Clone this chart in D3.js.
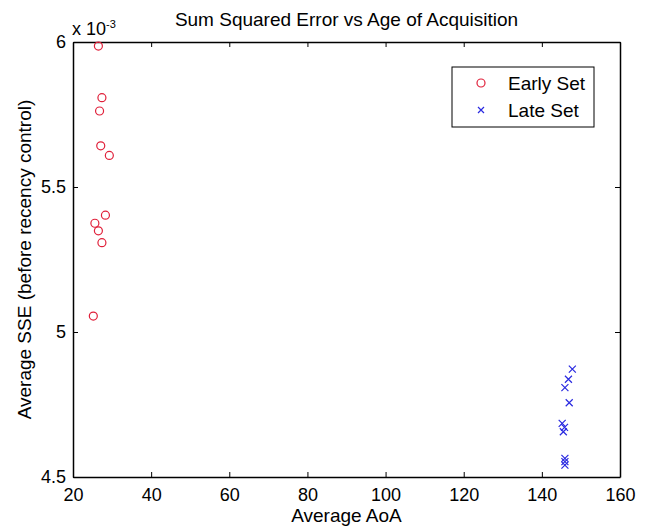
<!DOCTYPE html>
<html>
<head>
<meta charset="utf-8">
<script src="https://cdn.jsdelivr.net/npm/d3@7"></script>
<style>
  body { margin: 0; background: #fff; }
  text { font-family: "Liberation Sans", Arial, sans-serif; fill: #000; }
</style>
</head>
<body>
<div id="chart"></div>
<script>
// Early set: average AoA vs average SSE (x 10^-3)
const earlyAoA = [26.5, 27.4, 26.8, 27.1, 29.3, 28.3, 25.6, 26.5, 27.4, 25.2];
const earlySSE = [5.986, 5.808, 5.762, 5.642, 5.609, 5.403, 5.375, 5.349, 5.308, 5.055];

// Late set
const lateAoA = [147.8, 146.8, 145.9, 147.0, 145.2, 145.8, 145.5, 145.9, 145.9, 145.9];
const lateSSE = [4.872, 4.837, 4.808, 4.756, 4.685, 4.671, 4.656, 4.564, 4.553, 4.541];

const xTicks = [20, 40, 60, 80, 100, 120, 140, 160];
const yTicks = [4.5, 5, 5.5, 6];
const seriesNames = ["Early Set", "Late Set"];

const width = 649, height = 527;
const margin = { top: 42, right: 29, bottom: 50, left: 73 };

const svg = d3.select("#chart").append("svg")
    .attr("width", width)
    .attr("height", height);

const x = d3.scaleLinear().domain([20, 160]).range([margin.left, width - margin.right]);
const y = d3.scaleLinear().domain([4.5, 6]).range([height - margin.bottom, margin.top]);

const tickLen = 5;

// Axes (MATLAB style: ticks inside, box on)
const fontSize = "18px";
const gx = svg.append("g")
    .attr("transform", `translate(0,${y(4.5)})`)
    .call(d3.axisBottom(x).tickValues(xTicks).tickSizeInner(-tickLen).tickSizeOuter(0).tickPadding(10));
const gxTop = svg.append("g")
    .attr("transform", `translate(0,${y(6)})`)
    .call(d3.axisTop(x).tickValues(xTicks).tickSizeInner(-tickLen).tickSizeOuter(0).tickFormat(""));
const gy = svg.append("g")
    .attr("transform", `translate(${x(20)},0)`)
    .call(d3.axisLeft(y).tickValues(yTicks).tickSizeInner(-tickLen).tickSizeOuter(0).tickPadding(7).tickFormat(d3.format("")));
const gyRight = svg.append("g")
    .attr("transform", `translate(${x(160)},0)`)
    .call(d3.axisRight(y).tickValues(yTicks).tickSizeInner(-tickLen).tickSizeOuter(0).tickFormat(""));

[gx, gxTop, gy, gyRight].forEach(g => {
    g.select(".domain").attr("stroke", "#000").attr("stroke-width", 1.5);
    g.selectAll(".tick line").attr("stroke", "#000").attr("stroke-width", 1);
    g.selectAll(".tick text").attr("font-size", fontSize).attr("fill", "#000")
        .style("font-family", '"Liberation Sans", Arial, sans-serif');
});
gx.selectAll(".tick text").attr("dy", "0.75em");

// Exponent label
const expo = svg.append("text")
    .attr("x", x(20) - 1)
    .attr("y", 35)
    .attr("font-size", "18px");
expo.append("tspan").text("x 10");
expo.append("tspan").attr("dy", -7).attr("font-size", "11px").text("-3");

// Title and axis labels
svg.append("text")
    .attr("x", (x(20) + x(160)) / 2)
    .attr("y", 26)
    .attr("text-anchor", "middle")
    .attr("font-size", "19px")
    .text("Sum Squared Error vs Age of Acquisition");

svg.append("text")
    .attr("x", (x(20) + x(160)) / 2)
    .attr("y", 522)
    .attr("text-anchor", "middle")
    .attr("font-size", "19px")
    .text("Average AoA");

svg.append("text")
    .attr("transform", `translate(31,${(y(4.5) + y(6)) / 2}) rotate(-90)`)
    .attr("text-anchor", "middle")
    .attr("font-size", "19px")
    .text("Average SSE (before recency control)");

const red = "#e0203a";
const blue = "#2a2ae0";

// Early set markers: circles
svg.append("g").selectAll("circle")
    .data(d3.zip(earlyAoA, earlySSE))
    .join("circle")
    .attr("cx", d => x(d[0]))
    .attr("cy", d => y(d[1]))
    .attr("r", 4)
    .attr("fill", "none")
    .attr("stroke", red)
    .attr("stroke-width", 1.2);

// Late set markers: crosses
const cross = (cx, cy, s) => `M${cx - s},${cy - s}L${cx + s},${cy + s}M${cx - s},${cy + s}L${cx + s},${cy - s}`;
svg.append("g").selectAll("path")
    .data(d3.zip(lateAoA, lateSSE))
    .join("path")
    .attr("d", d => cross(x(d[0]), y(d[1]), 3.5))
    .attr("fill", "none")
    .attr("stroke", blue)
    .attr("stroke-width", 1.2);

// Legend
const lg = svg.append("g");
lg.append("rect")
    .attr("x", 452).attr("y", 67)
    .attr("width", 142).attr("height", 60)
    .attr("fill", "#fff")
    .attr("stroke", "#000")
    .attr("stroke-width", 1);
lg.append("circle")
    .attr("cx", 481).attr("cy", 83).attr("r", 4)
    .attr("fill", "none").attr("stroke", red).attr("stroke-width", 1.2);
lg.append("path")
    .attr("d", cross(481, 110, 3))
    .attr("fill", "none").attr("stroke", blue).attr("stroke-width", 1.2);
lg.selectAll("text.leg")
    .data(seriesNames)
    .join("text")
    .attr("class", "leg")
    .attr("x", 508)
    .attr("y", (d, i) => 83 + i * 27)
    .attr("dy", "0.35em")
    .attr("font-size", "19px")
    .text(d => d);
</script>
</body>
</html>
